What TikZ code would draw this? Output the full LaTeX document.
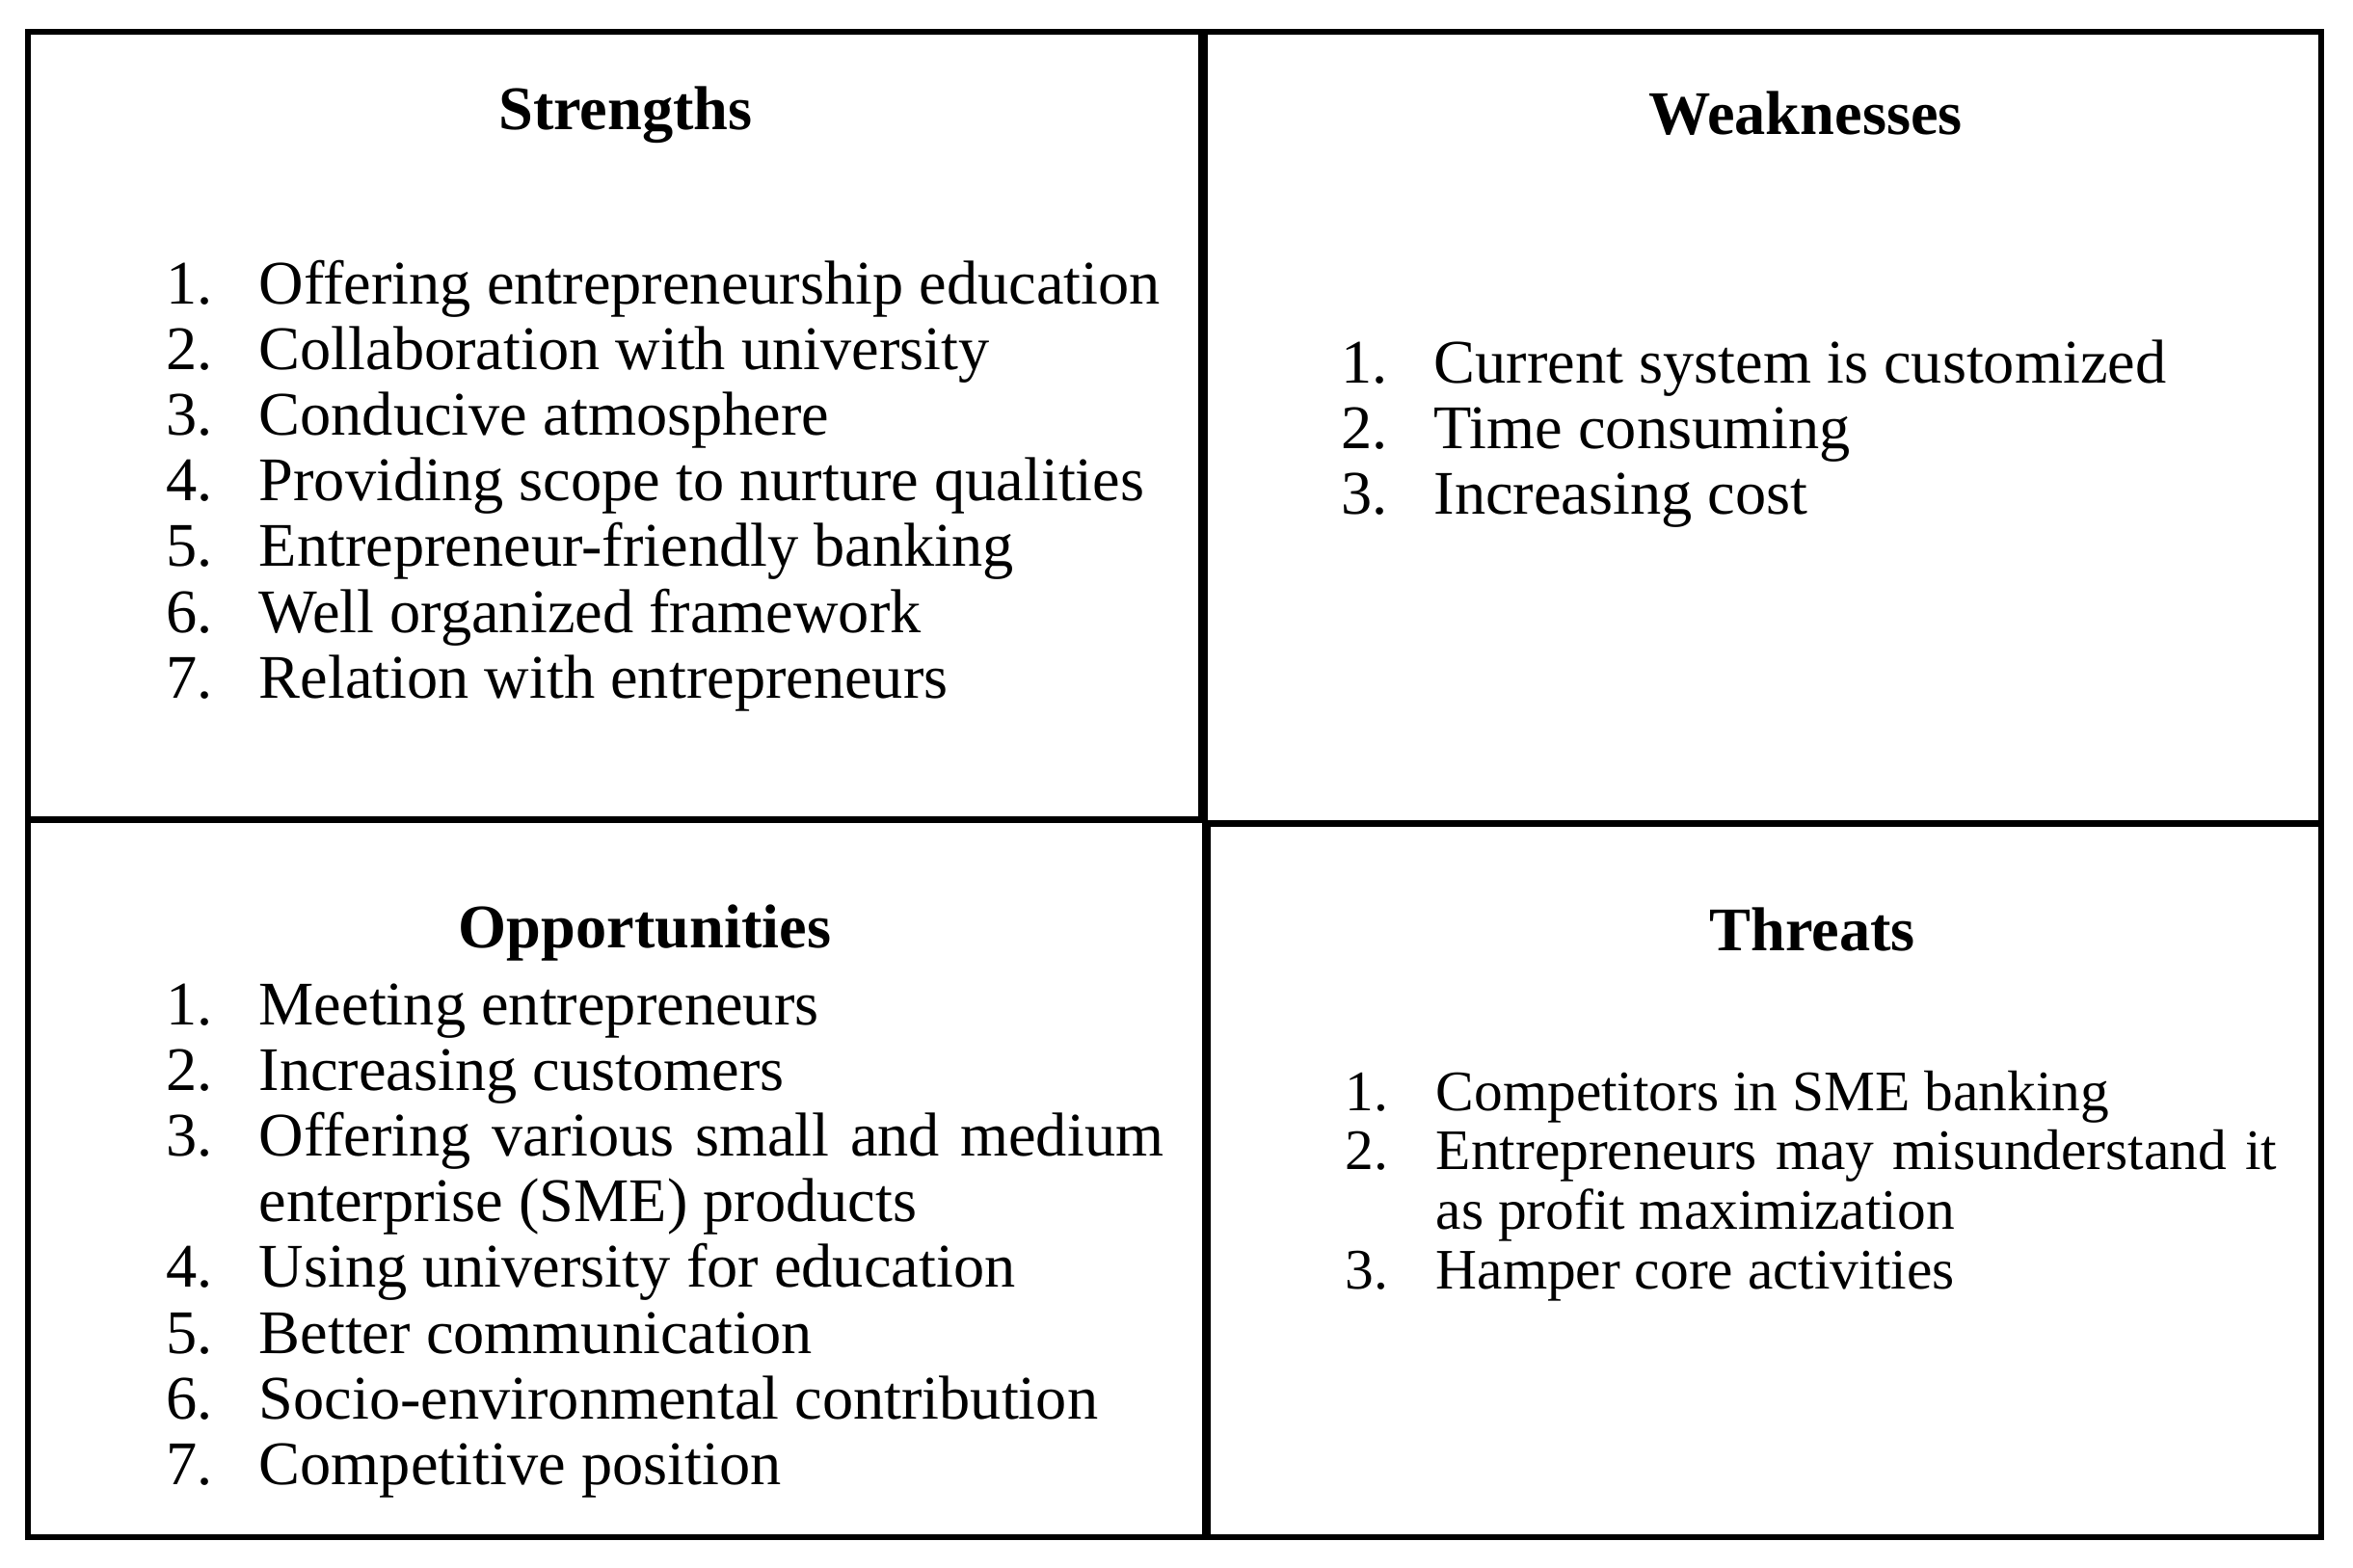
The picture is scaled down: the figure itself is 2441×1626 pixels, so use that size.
\documentclass[tikz,border=0pt]{standalone}
\usepackage{fontspec}
\setmainfont{Liberation Serif}
\begin{document}
\begin{tikzpicture}[x=0.01cm,y=-0.01cm,
  txt/.style={anchor=base west,inner sep=0pt,font=\fontsize{18.3}{20}\selectfont},
  ttxt/.style={anchor=base west,inner sep=0pt,font=\fontsize{16.9}{18}\selectfont},
  ttl/.style={anchor=base,inner sep=0pt,font=\fontsize{18.3}{20}\selectfont\bfseries},
  frame/.style={line width=1.7pt,line cap=rect},
  midv/.style={line width=2.8pt},
  midh/.style={line width=2pt}]
\useasboundingbox (0,0) rectangle (2441,1626);
% frame
\draw[frame] (29,33) rectangle (2408,1595);
\draw[midv] (1248,33) -- (1248,852);
\draw[midv] (1251.5,852) -- (1251.5,1595);
\draw[midh] (29,850.5) -- (1248,850.5);
\draw[midh] (1248,854) -- (2408,854);
% titles
\node[ttl] (tS) at (649,134) {Strengths};
\node[ttl] (tW) at (1873,139) {Weaknesses};
\node[ttl] (tO) at (669,983) {Opportunities};
\node[ttl] (tT) at (1880,986) {Threats};
% strengths
\foreach \i/\t in {1/Offering entrepreneurship education,
  2/Collaboration with university,
  3/Conducive atmosphere,
  4/Providing scope to nurture qualities,
  5/Entrepreneur-friendly banking,
  6/Well organized framework,
  7/Relation with entrepreneurs}{
  \node[txt] (sn\i) at (172,{315+68.2*(\i-1)}) {\i.};
  \node[txt] (s\i) at (268,{315+68.2*(\i-1)}) {\t};
}
% weaknesses
\foreach \i/\t in {1/Current system is customized,
  2/Time consuming,
  3/Increasing cost}{
  \node[txt] (wn\i) at (1391,{397+68*(\i-1)}) {\i.};
  \node[txt] (w\i) at (1487,{397+68*(\i-1)}) {\t};
}
% opportunities
\node[txt] (on1) at (172,1063) {1.};
\node[txt] (o1) at (268,1063) {Meeting entrepreneurs};
\node[txt] (on2) at (172,1131) {2.};
\node[txt] (o2) at (268,1131) {Increasing customers};
\node[txt] (on3) at (172,1199) {3.};
\node[txt] (o3) at (268,1199) {\makebox[9.38cm][s]{Offering various small and medium}};
\node[txt] (o3b) at (268,1267) {enterprise (SME) products};
\node[txt] (on4) at (172,1335) {4.};
\node[txt] (o4) at (268,1335) {Using university for education};
\node[txt] (on5) at (172,1404) {5.};
\node[txt] (o5) at (268,1404) {Better communication};
\node[txt] (on6) at (172,1472) {6.};
\node[txt] (o6) at (268,1472) {Socio-environmental contribution};
\node[txt] (on7) at (172,1540) {7.};
\node[txt] (o7) at (268,1540) {Competitive position};
% threats
\node[ttxt] (tn1) at (1395,1152) {1.};
\node[ttxt] (t1) at (1489,1152) {Competitors in SME banking};
\node[ttxt] (tn2) at (1395,1213) {2.};
\node[ttxt] (t2) at (1489,1213) {\makebox[8.72cm][s]{Entrepreneurs may misunderstand it}};
\node[ttxt] (t2b) at (1489,1275) {as profit maximization};
\node[ttxt] (tn3) at (1395,1337) {3.};
\node[ttxt] (t3) at (1489,1337) {Hamper core activities};
\end{tikzpicture}
\end{document}
